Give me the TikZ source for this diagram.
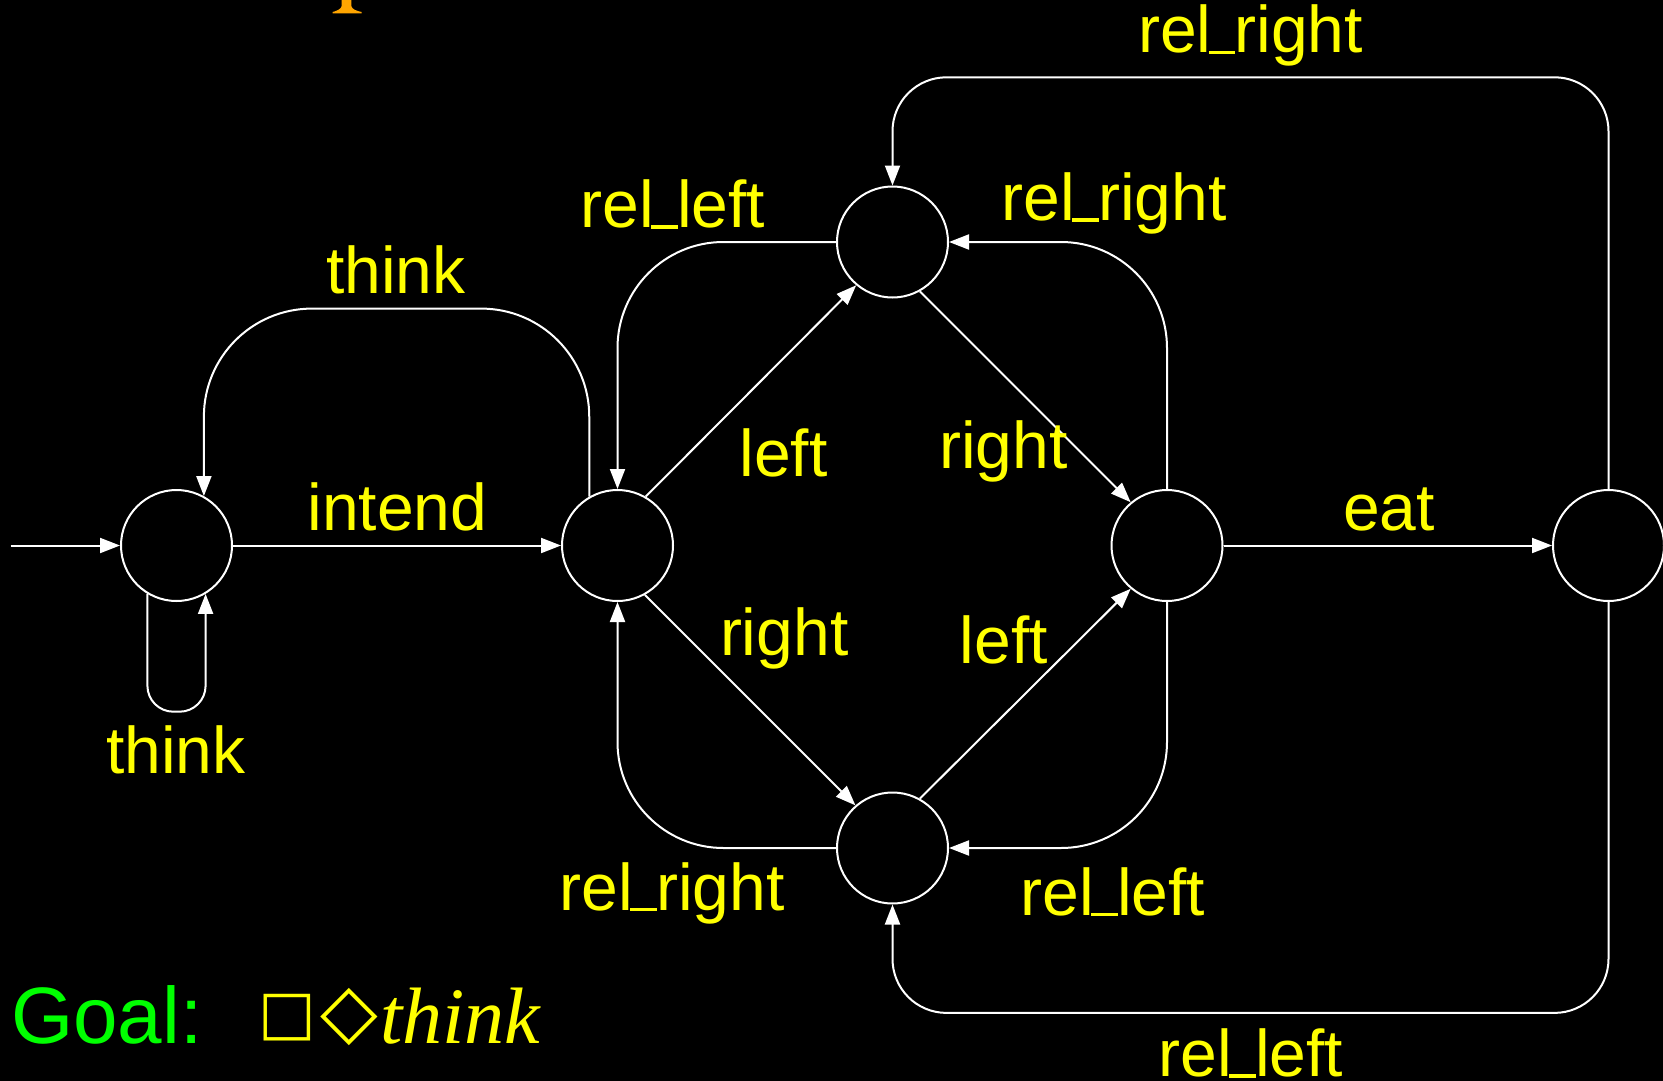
\documentclass[tikz,border=0pt]{standalone}
\usepackage{fontspec}
\setmainfont{Liberation Sans}
\newfontfamily\serifit{Liberation Serif}
\newfontfamily\symfont{DejaVu Sans}
\usetikzlibrary{arrows.meta}
\definecolor{lblyellow}{RGB}{255,255,0}
\definecolor{goalgreen}{RGB}{0,255,0}
\definecolor{titleorange}{RGB}{255,165,0}
\newcommand{\us}{\kern-2.6pt\rule[-1pt]{26.7pt}{3.5pt}\kern-0.9pt}
\tikzset{
  state/.style={circle, draw=white, line width=2pt, minimum size=111pt, inner sep=0pt},
  arr/.style={draw=white, line width=2pt, -{Triangle[length=20pt, width=15pt]}},
  lbl/.style={text=lblyellow, font=\fontsize{66}{70}\selectfont, anchor=base, inner sep=0pt},
}
\begin{document}
\begin{tikzpicture}[x=1pt, y=-1pt]
\fill[black] (0,0) rectangle (1663,1081);
\useasboundingbox (0,0) rectangle (1663,1081);
% fragment of a title letter
\fill[titleorange] (341.7,0) -- (341.7,6) .. controls (341,9.5) and (336,11) .. (332.7,12) -- (332.7,13.5) -- (361.7,13.5) -- (361.7,12) .. controls (357,11) and (352,9.5) .. (351.3,6) -- (351.3,0) -- cycle;
% states
\node[state] (A) at (176.5,545.5) {};
\node[state] (B) at (617.5,545.5) {};
\node[state] (C) at (892.5,242) {};
\node[state] (D) at (1167,545.5) {};
\node[state] (E) at (892.5,848) {};
\node[state] (F) at (1608.5,545.5) {};
\coordinate (start) at (10.6,545.5);
\coordinate (tl) at (0,308.6);
\coordinate (lb) at (0,711.7);
\coordinate (ytop) at (0,77.3);
\coordinate (ybot) at (0,1012.9);
% edges
\draw[arr] (start) -- (A);
\draw[arr] (A) -- (B);
\draw[arr, rounded corners=108pt] (B.120) -- (B.120 |- tl) -- (A.61 |- tl) -- (A.61);
\draw[arr, rounded corners=26pt] (A.239) -- (A.239 |- lb) -- (A.301 |- lb) -- (A.301);
\draw[arr] (B.60) -- (C.230);
\draw[arr] (C.299) -- (D.130);
\draw[arr] (B.299) -- (E.131);
\draw[arr] (E.61) -- (D.230);
\draw[arr, rounded corners=106pt] (C.west) -| (B.north);
\draw[arr, rounded corners=106pt] (D.north) |- (C.east);
\draw[arr, rounded corners=106pt] (E.west) -| (B.south);
\draw[arr, rounded corners=106pt] (D.south) |- (E.east);
\draw[arr] (D) -- (F);
\draw[arr, rounded corners=54pt] (F.north) -- (F.north |- ytop) -- (C.north |- ytop) -- (C.north);
\draw[arr, rounded corners=54pt] (F.south) -- (F.south |- ybot) -- (E.south |- ybot) -- (E.south);
% labels
\node[lbl] (lthinktop) at (396,293.8) {think};
\node[lbl] (lintend) at (397.5,530.3) {intend};
\node[lbl] (lthinkloop) at (176,773) {think};
\node[lbl] (lleftup) at (783.4,476) {left};
\node[lbl] (lrightup) at (1003.3,468.3) {right};
\node[lbl] (lrightdown) at (784.2,655) {right};
\node[lbl] (lleftdown) at (1003.7,663.3) {left};
\node[lbl] (lrelleftC) at (673,227.5) {rel\us left};
\node[lbl] (lrelrightC) at (1114.2,220.6) {rel\us right};
\node[lbl] (lrelrighttop) at (1250.5,53) {rel\us right};
\node[lbl] (leat) at (1388.9,530.3) {eat};
\node[lbl] (lrelrightE) at (672,910) {rel\us right};
\node[lbl] (lrelleftE) at (1113,915) {rel\us left};
\node[lbl] (lrelleftbot) at (1251,1076.5) {rel\us left};
% goal
\node[anchor=base west, inner sep=0pt, text=goalgreen, font=\fontsize{80}{82}\selectfont] (goal) at (11,1043) {Goal:};
\node[inner sep=0pt, text=lblyellow, font=\symfont\fontsize{61}{64}\selectfont] (box) at (287.4,1017.5) {□};
\node[inner sep=0pt, text=lblyellow, font=\symfont\fontsize{75}{78}\selectfont] (dia) at (349,1017.5) {◇};
\node[anchor=base west, inner sep=0pt, text=lblyellow, font=\serifit\itshape\fontsize{80}{82}\selectfont] (thinkf) at (380,1043) {think};
\end{tikzpicture}
\end{document}
